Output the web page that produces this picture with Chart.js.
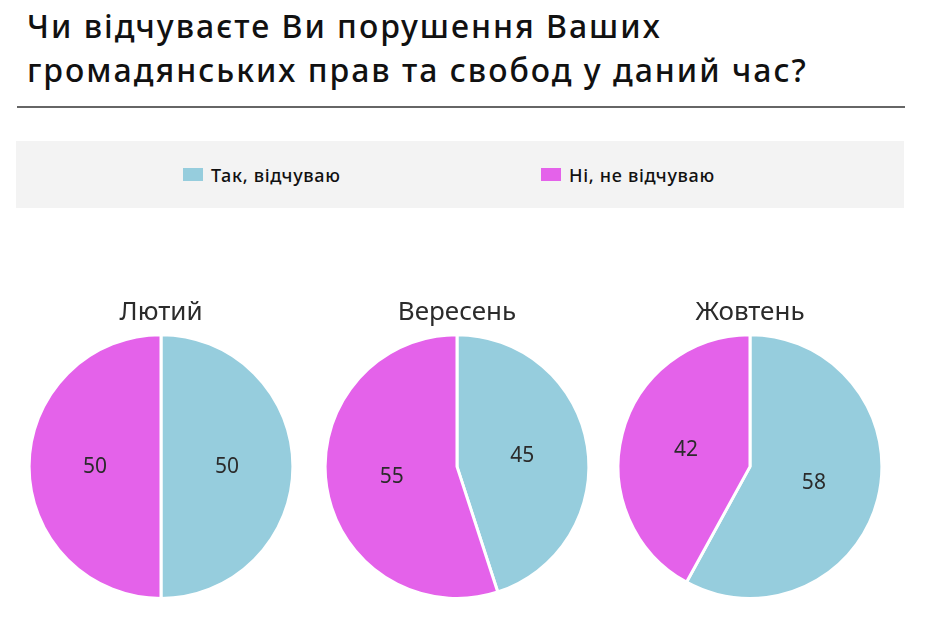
<!DOCTYPE html>
<html><head><meta charset="utf-8">
<script src="https://cdn.jsdelivr.net/npm/chart.js@4/dist/chart.umd.min.js"></script>
<style>
html,body{margin:0;padding:0;background:#fff;width:930px;height:642px;overflow:hidden;position:relative;}
#title{position:absolute;left:27px;top:4px;font-family:"Noto Sans",sans-serif;font-size:32px;line-height:44px;color:#111;font-weight:500;letter-spacing:2px;white-space:nowrap;}
#rule{position:absolute;left:17px;top:106px;width:888px;height:2px;background:#666;}
#legend{position:absolute;left:16px;top:141px;width:888px;height:67px;background:#f3f3f3;}
.item{position:absolute;top:0;height:67px;display:flex;align-items:center;font-family:"Noto Sans",sans-serif;font-weight:500;font-size:18px;letter-spacing:0.7px;color:#111;}
.sw{width:20px;height:13px;margin-right:8px;}
canvas{position:absolute;}
</style></head>
<body>
<div id="title">Чи відчуваєте Ви порушення Ваших<br>громадянських прав та свобод у даний час?</div>
<div id="rule"></div>
<div id="legend"></div>
<canvas id="c0" width="290" height="313" style="left:16px;top:287px"></canvas>
<canvas id="c1" width="290" height="313" style="left:312px;top:287px"></canvas>
<canvas id="c2" width="290" height="313" style="left:605px;top:287px"></canvas>
<script>
const categories = ["Так, відчуваю", "Ні, не відчуваю"];
const months = ["Лютий", "Вересень", "Жовтень"];
const yesValues = [50, 45, 58];
const noValues = [50, 55, 42];
const colors = ["#96cddd", "#e462ea"];

const legend = document.getElementById('legend');
const legendX = [167, 525];
categories.forEach((c, i) => {
  const d = document.createElement('div');
  d.className = 'item';
  d.style.left = legendX[i] + 'px';
  d.innerHTML = '<div class="sw" style="background:' + colors[i] + '"></div><span></span>';
  d.querySelector('span').textContent = c;
  legend.appendChild(d);
});

const labelPlugin = {
  id: 'sliceLabels',
  afterDatasetsDraw(chart) {
    const ctx = chart.ctx;
    const ds = chart.data.datasets[0];
    chart.getDatasetMeta(0).data.forEach((arc, i) => {
      const p = arc.tooltipPosition();
      ctx.save();
      ctx.font = '21px "Noto Sans", sans-serif';
      ctx.fillStyle = '#2b2b2b';
      ctx.textAlign = 'center';
      ctx.textBaseline = 'middle';
      ctx.fillText(String(ds.data[i]), p.x, p.y);
      ctx.restore();
    });
  }
};

months.forEach((m, k) => {
  new Chart(document.getElementById('c' + k), {
    type: 'pie',
    data: {
      labels: categories,
      datasets: [{
        data: [yesValues[k], noValues[k]],
        backgroundColor: colors,
        borderColor: '#ffffff',
        borderWidth: 3
      }]
    },
    options: {
      responsive: false,
      animation: false,
      layout: { padding: 0 },
      plugins: {
        legend: { display: false },
        tooltip: { enabled: false },
        title: {
          display: true,
          text: m,
          color: '#2b2b2b',
          font: { family: '"Noto Sans", sans-serif', size: 26, weight: 'normal' },
          padding: { top: 10, bottom: 5 }
        }
      }
    },
    plugins: [labelPlugin]
  });
});
</script>
</body></html>
